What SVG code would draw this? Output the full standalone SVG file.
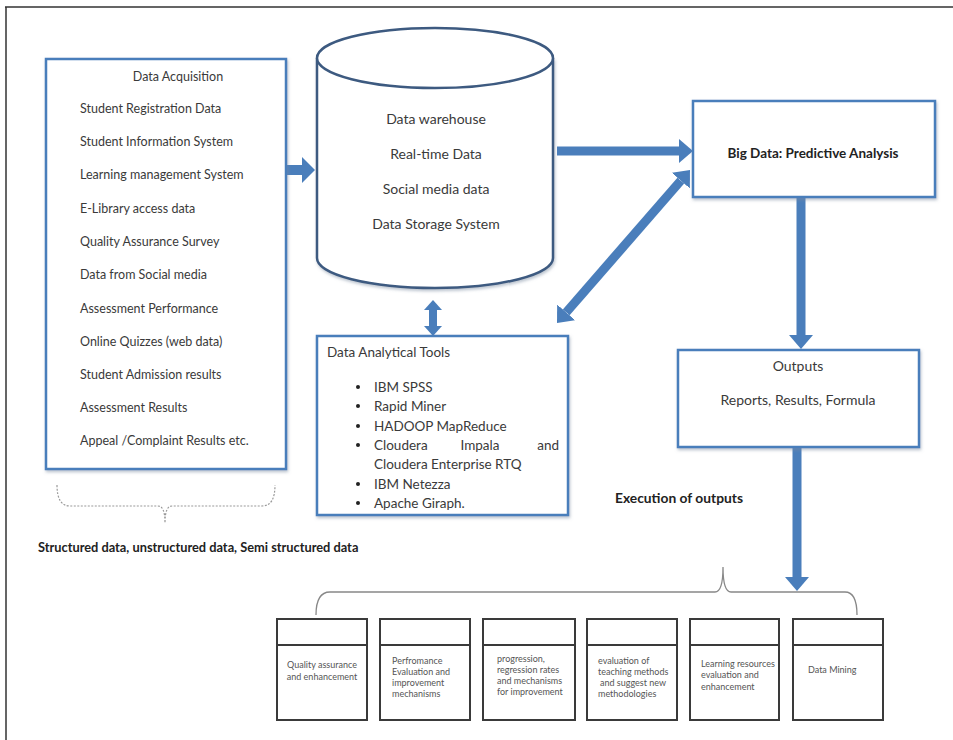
<svg xmlns="http://www.w3.org/2000/svg" width="953" height="740" viewBox="0 0 953 740">
<defs>
<style>
text{font-family:Lato,"Liberation Sans",sans-serif;fill:#3a3a3a}
.it{font-size:12.5px}
.cy{font-size:14px;text-anchor:middle}
.tl{font-size:13.5px}
.b{font-weight:bold;fill:#222}
.sm{font-size:9px;fill:#555}
.box{fill:#fff;stroke:#4a7ebb;stroke-width:2.5;filter:url(#sh)}
.bb{fill:#fff;stroke:#3a3a3a;stroke-width:2}
.ar{stroke:#4a7ebb;fill:none}
</style>
<filter id="sh" x="-10%" y="-10%" width="120%" height="120%">
<feDropShadow dx="1" dy="2" stdDeviation="1.5" flood-color="#7a8aa0" flood-opacity="0.5"/>
</filter>
<marker id="h1" viewBox="0 0 14 24" refX="0" refY="12" markerWidth="14" markerHeight="24" markerUnits="userSpaceOnUse" orient="auto-start-reverse">
<path d="M0,0 L14,12 L0,24 Z" fill="#4a7ebb"/>
</marker>
<marker id="h2" viewBox="0 0 13 26" refX="0" refY="13" markerWidth="13" markerHeight="26" markerUnits="userSpaceOnUse" orient="auto-start-reverse">
<path d="M0,0 L13,13 L0,26 Z" fill="#4a7ebb"/>
</marker>
<marker id="h3" viewBox="0 0 10 18" refX="0" refY="9" markerWidth="10" markerHeight="18" markerUnits="userSpaceOnUse" orient="auto-start-reverse">
<path d="M0,0 L10,9 L0,18 Z" fill="#4a7ebb"/>
</marker>
</defs>
<rect width="953" height="740" fill="#fff"/>
<path d="M5,7 L953,7 M6,7 L6,740" stroke="#333" stroke-width="1.5" fill="none"/>

<g id="connectors">
<line class="ar" x1="287" y1="170" x2="302" y2="170" stroke-width="10" marker-end="url(#h2)"/>
<line class="ar" x1="557" y1="151" x2="679" y2="151" stroke-width="9" marker-end="url(#h1)"/>
<line class="ar" x1="680.8" y1="180.6" x2="566.2" y2="312.4" stroke-width="9" marker-start="url(#h1)" marker-end="url(#h1)"/>
<line class="ar" x1="433" y1="310" x2="433" y2="326" stroke-width="8" marker-start="url(#h3)" marker-end="url(#h3)"/>
<line class="ar" x1="801" y1="198" x2="801" y2="335" stroke-width="9" marker-end="url(#h1)"/>
<line class="ar" x1="797" y1="447" x2="797" y2="577" stroke-width="9" marker-end="url(#h1)"/>
<path d="M57,485 Q57,506 70,506 L158,506 Q165,506 165,523 Q165,506 172,506 L262,506 Q275,506 275,485" fill="none" stroke="#999" stroke-width="1.2" stroke-dasharray="2,1.5"/>
<path d="M316,615 Q316,592 330,592 L715,592 Q723,592 723,567 Q723,592 731,592 L845,592 Q857,592 857,615" fill="none" stroke="#888" stroke-width="1.3"/>
</g>

<g id="acquisition">
<rect class="box" x="46" y="59" width="240" height="410"/>
<text x="178" y="81" class="it" text-anchor="middle" font-size="12">Data Acquisition</text>
<text class="it" x="80" y="113">Student Registration Data</text>
<text class="it" x="80" y="146">Student Information System</text>
<text class="it" x="80" y="179">Learning management System</text>
<text class="it" x="80" y="213">E-Library access data</text>
<text class="it" x="80" y="246">Quality Assurance Survey</text>
<text class="it" x="80" y="279">Data from Social media</text>
<text class="it" x="80" y="313">Assessment Performance</text>
<text class="it" x="80" y="346">Online Quizzes (web data)</text>
<text class="it" x="80" y="379">Student Admission results</text>
<text class="it" x="80" y="412">Assessment Results</text>
<text class="it" x="80" y="445">Appeal /Complaint Results etc.</text>
</g>

<g id="caption-left">
<text class="b" x="38" y="552" font-size="12.8">Structured data, unstructured data, Semi structured data</text>
</g>

<g id="warehouse">
<path d="M317,58 L317,258 A118,30 0 0 0 553,258 L553,58" fill="#fff" stroke="#3d5a80" stroke-width="2.5" filter="url(#sh)"/>
<ellipse cx="435" cy="58" rx="118" ry="30" fill="#fff" stroke="#3d5a80" stroke-width="2.5"/>
<text class="cy" x="436" y="124">Data warehouse</text>
<text class="cy" x="436" y="159">Real-time Data</text>
<text class="cy" x="436" y="194">Social media data</text>
<text class="cy" x="436" y="229">Data Storage System</text>
</g>

<g id="bigdata">
<rect class="box" x="693" y="101" width="242" height="96"/>
<text class="b" x="813" y="158" font-size="13.5" text-anchor="middle">Big Data: Predictive Analysis</text>
</g>

<g id="tools">
<rect class="box" x="317" y="336" width="251" height="179"/>
<text class="tl" x="327" y="357">Data Analytical Tools</text>
<g fill="#222">
<circle cx="358" cy="387" r="2"/><circle cx="358" cy="406" r="2"/><circle cx="358" cy="426" r="2"/><circle cx="358" cy="445" r="2"/><circle cx="358" cy="484" r="2"/><circle cx="358" cy="503" r="2"/>
</g>
<text class="tl" x="374" y="392">IBM SPSS</text>
<text class="tl" x="374" y="411">Rapid Miner</text>
<text class="tl" x="374" y="431">HADOOP MapReduce</text>
<text class="tl" x="374" y="450">Cloudera</text>
<text class="tl" x="480" y="450" text-anchor="middle">Impala</text>
<text class="tl" x="559" y="450" text-anchor="end">and</text>
<text class="tl" x="374" y="469">Cloudera Enterprise RTQ</text>
<text class="tl" x="374" y="489">IBM Netezza</text>
<text class="tl" x="374" y="508">Apache Giraph.</text>
</g>

<g id="outputs">
<rect class="box" x="678" y="350" width="241" height="97"/>
<text class="cy" x="798" y="371">Outputs</text>
<text class="cy" x="798" y="405">Reports, Results, Formula</text>
</g>

<g id="execution-label">
<text class="b" x="615" y="503" font-size="13.8">Execution of outputs</text>
</g>

<g id="out1">
<rect class="bb" x="277" y="619" width="90" height="101"/>
<line x1="277" y1="645" x2="367" y2="645" stroke="#3a3a3a" stroke-width="2"/>
<text class="sm" x="322" y="668" text-anchor="middle">Quality assurance</text>
<text class="sm" x="322" y="680" text-anchor="middle">and enhancement</text>
</g>
<g id="out2">
<rect class="bb" x="380" y="619" width="90" height="101"/>
<line x1="380" y1="645" x2="470" y2="645" stroke="#3a3a3a" stroke-width="2"/>
<text class="sm" x="392" y="664">Perfromance</text>
<text class="sm" x="392" y="675">Evaluation and</text>
<text class="sm" x="392" y="686">improvement</text>
<text class="sm" x="392" y="697">mechanisms</text>
</g>
<g id="out3">
<rect class="bb" x="483" y="619" width="92" height="101"/>
<line x1="483" y1="645" x2="575" y2="645" stroke="#3a3a3a" stroke-width="2"/>
<text class="sm" x="497" y="662">progression,</text>
<text class="sm" x="497" y="673">regression rates</text>
<text class="sm" x="497" y="684">and  mechanisms</text>
<text class="sm" x="497" y="695">for improvement</text>
</g>
<g id="out4">
<rect class="bb" x="587" y="619" width="90" height="101"/>
<line x1="587" y1="645" x2="677" y2="645" stroke="#3a3a3a" stroke-width="2"/>
<text class="sm" x="598" y="664">evaluation of</text>
<text class="sm" x="598" y="675">teaching methods</text>
<text class="sm" x="600" y="686">and suggest new</text>
<text class="sm" x="598" y="697">methodologies</text>
</g>
<g id="out5">
<rect class="bb" x="690" y="619" width="89" height="101"/>
<line x1="690" y1="645" x2="779" y2="645" stroke="#3a3a3a" stroke-width="2"/>
<text class="sm" x="701" y="667">Learning resources</text>
<text class="sm" x="701" y="678">evaluation and</text>
<text class="sm" x="701" y="690">enhancement</text>
</g>
<g id="out6">
<rect class="bb" x="793" y="619" width="90" height="101"/>
<line x1="793" y1="645" x2="883" y2="645" stroke="#3a3a3a" stroke-width="2"/>
<text class="sm" x="808" y="673">Data Mining</text>
</g>
</svg>
